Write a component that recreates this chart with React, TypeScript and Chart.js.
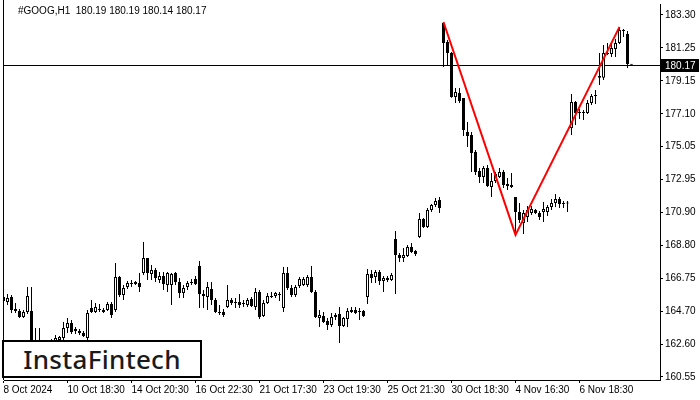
import React, { useEffect, useRef } from "react";
import { Chart, registerables } from "chart.js";

Chart.register(...registerables);

const opens = [
  165.58, 165.26, 165.58, 164.7, 164.7, 164.32, 164.64, 164.7, 162.75, 162.5,
  162.62, 162.31, 162.56, 162.81, 162.88, 163.0, 163.63, 163.94, 163.44, 163.44,
  163.32, 163.0, 164.89, 164.64, 164.82, 164.76, 164.76, 165.14, 164.76, 166.84,
  165.7, 166.21, 166.39, 166.39, 166.46, 167.09, 168.03, 167.02, 167.28, 166.65,
  166.9, 166.33, 166.33, 167.09, 166.52, 165.83, 166.21, 166.46, 166.71, 167.53,
  165.77, 165.58, 166.08, 165.39, 164.64, 164.64, 164.95, 165.39, 165.26, 165.26,
  165.2, 165.08, 165.45, 164.95, 165.89, 164.38, 165.2, 165.64, 165.64, 165.7,
  164.89, 167.09, 166.14, 165.7, 166.27, 166.33, 166.33, 166.84, 165.89, 164.26,
  164.38, 164.07, 163.82, 164.32, 164.51, 163.76, 164.2, 164.64, 164.76, 164.64,
  164.7, 165.58, 167.02, 166.84, 167.15, 166.58, 166.65, 166.65, 169.22, 168.22,
  168.03, 168.15, 168.72, 168.47, 169.35, 170.48, 169.98, 171.05, 171.36, 171.67,
  182.8, 181.6, 180.91, 178.15, 178.4, 178.09, 175.95, 175.76, 174.69, 173.5,
  173.12, 173.69, 172.49, 172.87, 173.12, 173.43, 172.68, 172.62, 171.86, 170.92,
  170.23, 170.61, 170.86, 171.05, 170.86, 170.92, 170.92, 171.24, 171.49, 171.74,
  171.49, 171.49, 176.2, 177.83, 177.21, 177.14, 177.14, 177.77, 178.21, 179.47,
  179.35, 180.85, 180.85, 181.16, 181.54, 182.36, 182.11, 180.19,
];

const highs = [
  165.7, 165.77, 165.7, 165.2, 164.82, 164.76, 166.21, 166.21, 163.63, 163.63,
  162.88, 162.75, 162.94, 163.19, 163.13, 164.01, 164.26, 164.13, 163.69, 163.57,
  163.44, 164.76, 165.39, 165.2, 165.14, 164.89, 165.26, 165.26, 167.71, 166.9,
  166.33, 166.58, 166.65, 166.58, 167.09, 169.03, 168.03, 167.59, 167.4, 167.15,
  167.15, 167.15, 167.09, 167.15, 166.77, 166.33, 166.58, 166.71, 166.9, 167.84,
  166.02, 166.52, 166.52, 165.52, 165.08, 164.82, 166.33, 165.52, 165.52, 165.77,
  165.39, 165.52, 165.58, 166.14, 166.02, 165.39, 165.83, 165.89, 165.89, 165.89,
  167.46, 167.46, 166.33, 166.33, 166.84, 166.84, 166.96, 167.53, 166.02, 164.76,
  164.64, 164.26, 164.57, 164.57, 164.95, 164.32, 164.89, 164.95, 164.95, 164.89,
  164.76, 167.34, 167.28, 167.28, 167.28, 166.9, 166.9, 167.09, 169.73, 168.34,
  168.66, 168.85, 168.97, 168.53, 170.86, 170.54, 171.17, 171.42, 171.8, 171.86,
  182.86, 181.73, 180.98, 178.71, 178.71, 178.09, 176.58, 175.95, 174.82, 173.69,
  173.81, 173.87, 173.37, 173.43, 173.69, 173.56, 173.06, 173.37, 171.86, 171.49,
  171.05, 171.3, 171.3, 171.11, 170.98, 171.55, 171.36, 171.74, 172.05, 171.86,
  171.61, 171.61, 178.34, 177.9, 177.39, 177.33, 177.96, 178.34, 178.59, 180.91,
  181.42, 181.54, 181.54, 181.79, 182.55, 182.42, 182.3, 180.19,
];

const lows = [
  164.57, 165.08, 164.57, 164.57, 164.26, 164.26, 164.51, 162.25, 162.12, 162.06,
  162.12, 161.93, 162.25, 162.62, 162.69, 162.88, 163.32, 163.25, 163.25, 163.19,
  163.06, 162.88, 164.57, 164.57, 164.64, 164.57, 164.7, 164.26, 164.64, 165.58,
  165.39, 166.08, 166.21, 166.33, 165.89, 166.96, 166.65, 166.65, 166.52, 166.46,
  166.02, 165.89, 165.08, 166.33, 165.52, 165.52, 166.02, 166.33, 166.33, 164.89,
  164.89, 164.76, 165.08, 164.57, 164.45, 164.32, 164.89, 165.08, 164.89, 164.89,
  164.95, 164.95, 164.95, 164.76, 164.2, 164.32, 165.14, 165.52, 165.52, 165.33,
  164.64, 166.02, 165.58, 165.58, 166.14, 166.27, 166.21, 165.83, 164.26, 163.69,
  163.94, 163.5, 163.69, 164.13, 162.69, 163.69, 163.69, 164.57, 164.51, 164.13,
  164.32, 165.14, 166.46, 166.46, 166.33, 165.89, 166.52, 166.58, 165.77, 167.78,
  167.78, 168.09, 168.34, 168.15, 169.29, 169.91, 169.91, 170.92, 171.24, 170.86,
  180.03, 180.16, 178.1, 177.77, 177.77, 175.7, 175.01, 173.43, 173.25, 172.74,
  172.74, 172.49, 171.86, 172.74, 173.06, 172.43, 172.3, 172.43, 169.54, 170.23,
  169.54, 170.29, 170.73, 170.79, 170.42, 170.29, 170.67, 171.05, 171.24, 171.17,
  171.17, 170.92, 175.76, 176.39, 176.77, 176.7, 177.08, 177.65, 177.71, 178.9,
  179.22, 180.79, 180.66, 180.66, 181.48, 181.92, 179.97, 180.14,
];

const closes = [
  165.33, 165.52, 164.76, 164.82, 164.32, 164.64, 165.64, 162.56, 162.5, 162.62,
  162.31, 162.56, 162.69, 163.0, 163.06, 163.63, 163.94, 163.38, 163.57, 163.32,
  163.13, 164.57, 164.64, 164.95, 164.76, 164.64, 165.14, 164.45, 166.84, 165.7,
  166.14, 166.46, 166.46, 166.52, 166.21, 168.03, 167.09, 167.28, 166.77, 166.9,
  166.39, 167.09, 167.02, 166.52, 165.83, 166.14, 166.46, 166.52, 166.39, 165.77,
  165.64, 166.21, 165.39, 164.64, 164.57, 164.45, 165.39, 165.2, 165.2, 165.08,
  165.14, 165.39, 165.01, 165.89, 164.32, 165.2, 165.64, 165.58, 165.83, 165.73,
  167.09, 166.14, 165.7, 166.21, 166.71, 166.71, 166.84, 165.89, 164.32, 164.45,
  164.01, 163.82, 164.32, 164.45, 163.76, 164.26, 164.7, 164.76, 164.57, 164.7,
  164.38, 167.02, 166.77, 167.15, 166.58, 166.77, 166.77, 166.96, 168.22, 168.03,
  168.22, 168.72, 168.41, 168.28, 170.48, 169.98, 171.05, 171.36, 171.61, 171.17,
  181.54, 180.91, 178.15, 178.46, 177.9, 176.07, 175.7, 174.63, 173.43, 173.12,
  173.69, 172.55, 172.87, 173.31, 173.43, 172.62, 172.55, 172.49, 170.92, 170.42,
  170.86, 171.05, 171.11, 170.86, 170.61, 171.11, 171.24, 171.49, 171.74, 171.42,
  171.42, 171.45, 177.83, 177.14, 177.14, 177.21, 177.77, 178.21, 178.27, 179.35,
  180.91, 180.91, 181.23, 181.54, 182.36, 182.3, 180.22, 180.17,
];

const xTickBars = [0, 16, 32, 48, 64, 80, 96, 112, 128, 144];
const xTickLabels = [
  "8 Oct 2024", "10 Oct 18:30", "14 Oct 20:30", "16 Oct 22:30", "21 Oct 17:30",
  "23 Oct 19:30", "25 Oct 21:30", "30 Oct 18:30", "4 Nov 16:30", "6 Nov 18:30",
];

const yTickValues = [160.55, 162.62, 164.69, 166.75, 168.82, 170.89, 172.96, 175.02, 177.09, 179.16, 181.23, 183.3];
const yTickLabels = ["160.55", "162.60", "164.70", "166.75", "168.80", "170.90", "172.95", "175.05", "177.10", "179.15", "181.25", "183.30"];

const patternBars = [110, 128, 154];
const patternPrices = [182.86, 169.48, 182.55];

const lastPrice = 180.17;
const titleText = "#GOOG,H1  180.19 180.19 180.14 180.17";
const logoText = "InstaFintech";

const FONT = "'Liberation Sans', Arial, sans-serif";

export default function App() {
  const ref = useRef<HTMLCanvasElement | null>(null);

  useEffect(() => {
    document.body.style.margin = "0";
    const canvas = ref.current;
    if (!canvas) return;

    const idx = opens.map((_, i) => i);
    const bodies = idx.map((i) => ({ x: i, y: [opens[i], closes[i]] }));
    const wicks = idx.map((i) => ({
      x: i,
      y: [Math.min(lows[i], opens[i], closes[i]), Math.max(highs[i], opens[i], closes[i])],
    }));
    const fills = idx.map((i) => (closes[i] >= opens[i] ? "#ffffff" : "#000000"));

    const framePlugin = {
      id: "frame",
      beforeDatasetsDraw(chart: any) {
        const { ctx, chartArea } = chart;
        const py = Math.round(chart.scales.y.getPixelForValue(lastPrice)) + 0.5;
        ctx.save();
        ctx.strokeStyle = "#000";
        ctx.lineWidth = 1;
        ctx.beginPath();
        ctx.moveTo(chartArea.left, py);
        ctx.lineTo(chartArea.right, py);
        ctx.stroke();
        ctx.beginPath();
        ctx.moveTo(3.5, 0);
        ctx.lineTo(3.5, chartArea.bottom);
        ctx.stroke();
        ctx.restore();
      },
      afterDraw(chart: any) {
        const { ctx, chartArea } = chart;
        const py = Math.round(chart.scales.y.getPixelForValue(lastPrice));
        ctx.save();
        ctx.fillStyle = "#000";
        ctx.fillRect(chartArea.right + 1, py - 6, 38, 13);
        ctx.fillStyle = "#fff";
        ctx.font = `10px ${FONT}`;
        ctx.textBaseline = "middle";
        ctx.textAlign = "left";
        ctx.fillText(lastPrice.toFixed(2), chartArea.right + 5, py + 1);
        ctx.restore();
      },
    };

    const chart = new Chart(canvas, {
      type: "bar",
      data: {
        datasets: [
          {
            type: "line",
            data: patternBars.map((b, k) => ({ x: b, y: patternPrices[k] })),
            borderColor: "#ff0000",
            borderWidth: 2,
            pointRadius: 0,
            tension: 0,
            order: 0,
          } as any,
          {
            type: "bar",
            data: bodies as any,
            backgroundColor: fills,
            borderColor: "#000000",
            borderWidth: 1,
            borderSkipped: false,
            barThickness: 3,
            minBarLength: 1,
            grouped: false,
            inflateAmount: 0,
            order: 1,
          } as any,
          {
            type: "bar",
            data: wicks as any,
            backgroundColor: "#000000",
            borderWidth: 0,
            barThickness: 1,
            grouped: false,
            inflateAmount: 0,
            order: 2,
          } as any,
        ],
      },
      options: {
        responsive: false,
        animation: false,
        devicePixelRatio: 1,
        layout: { padding: { left: 4, top: 4, right: 0, bottom: 0 } },
        plugins: {
          legend: { display: false },
          tooltip: { enabled: false },
        },
        scales: {
          x: {
            type: "linear",
            min: 0.125,
            max: 164.125,
            offset: false,
            grid: { drawOnChartArea: false, drawTicks: true, tickLength: 3, color: "#000", offset: false },
            border: { display: true, color: "#000", width: 1 },
            ticks: {
              autoSkip: false,
              maxRotation: 0,
              minRotation: 0,
              align: "start",
              padding: 1,
              color: "#000",
              font: { family: FONT, size: 10 },
              callback: (_v: any, i: number) => xTickLabels[i],
            },
            afterBuildTicks: (s: any) => {
              s.ticks = xTickBars.map((v) => ({ value: v }));
            },
            afterFit: (s: any) => {
              s.height = 20;
              s.paddingLeft = 0;
              s.paddingRight = 0;
            },
          },
          y: {
            type: "linear",
            position: "right",
            min: 160.36,
            max: 183.99,
            grid: { drawOnChartArea: false, drawTicks: true, tickLength: 3, color: "#000" },
            border: { display: true, color: "#000", width: 1 },
            ticks: {
              padding: 2,
              color: "#000",
              font: { family: FONT, size: 10 },
              callback: (_v: any, i: number) => yTickLabels[i],
            },
            afterBuildTicks: (s: any) => {
              s.ticks = yTickValues.map((v) => ({ value: v }));
            },
            afterFit: (s: any) => {
              s.width = 40;
              s.paddingTop = 0;
              s.paddingBottom = 0;
            },
          },
        },
      } as any,
      plugins: [framePlugin],
    });

    return () => chart.destroy();
  }, []);

  return (
    <div style={{ position: "relative", width: 700, height: 400, background: "#fff", overflow: "hidden" }}>
      <canvas ref={ref} width={700} height={400} style={{ position: "absolute", left: 0, top: 0 }} />
      <div
        style={{
          position: "absolute",
          left: 18,
          top: 6,
          font: `10px ${FONT}`,
          lineHeight: "10px",
          color: "#000",
          whiteSpace: "pre",
        }}
      >
        {titleText}
      </div>
      <div
        style={{
          position: "absolute",
          left: 2,
          top: 340,
          width: 196,
          height: 34,
          border: "2px solid #000",
          background: "#fff",
          display: "flex",
          alignItems: "center",
          justifyContent: "center",
        }}
      >
        <span
          style={{
            fontFamily: "'Noto Sans', sans-serif",
            fontWeight: 500,
            fontSize: 26,
            letterSpacing: 0.3,
            color: "#1a1a1a",
            lineHeight: "30px",
          }}
        >
          {logoText}
        </span>
      </div>
    </div>
  );
}
